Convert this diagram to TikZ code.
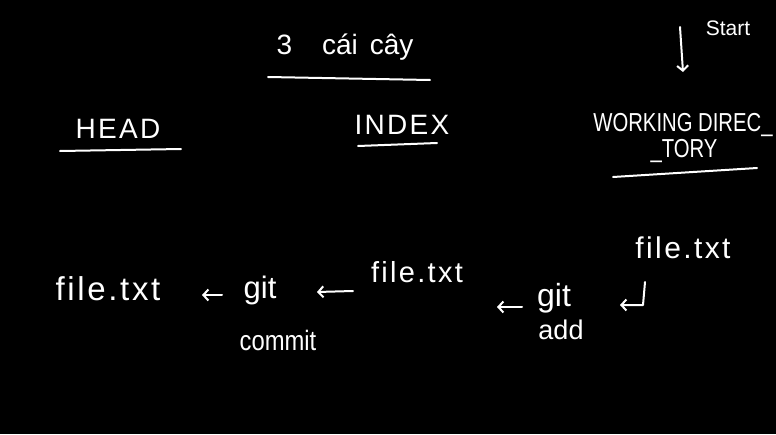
\documentclass[tikz,border=0pt]{standalone}
\usepackage{fontspec}
\setmainfont{Liberation Sans}
\newfontfamily\handwide[LetterSpace=8]{Liberation Sans}
\newfontfamily\handnarrow[FakeStretch=0.78]{Liberation Sans}
\newfontfamily\handcond[FakeStretch=0.85]{Liberation Sans}
\usetikzlibrary{arrows.meta}
\begin{document}
\begin{tikzpicture}[x=1pt,y=-1pt,
  txt/.style={text=white, inner sep=0pt, anchor=base},
  ln/.style={draw=white, line width=2pt, line cap=round, line join=round},
  arr/.style={ln, -{Straight Barb[length=5pt,width=11pt,line width=2pt]}}]
\fill[black] (0,0) rectangle (776,434);
\useasboundingbox (0,0) rectangle (776,434);

% titles
\node[txt, font=\fontsize{28}{32}\selectfont] (title) at (345,54) {3\hspace{30pt}cái\hspace{12pt}cây};
\draw[ln] (268,77) -- (430,80);

\node[txt, font=\handwide\fontsize{28}{32}\selectfont] (head) at (118,138) {HEAD};
\draw[ln] (60,151) -- (181,149);

\node[txt, font=\handwide\fontsize{28}{32}\selectfont] (index) at (402,134) {INDEX};
\draw[ln] (358,146) -- (437,143);

\node[txt, font=\handnarrow\fontsize{26}{30}\selectfont] (wd1) at (683,131) {WORKING DIREC\_};
\node[txt, font=\handnarrow\fontsize{26}{30}\selectfont] (wd2) at (684,157) {\_TORY};
\draw[ln] (613,177) -- (757,168);

\node[txt, font=\fontsize{21}{24}\selectfont] (start) at (728,35) {Start};
\coordinate (starttop) at (680,27);
\coordinate (startend) at (683,72);
\draw[arr] (starttop) -- (startend);

% files and commands
\node[txt, font=\handwide\fontsize{30}{34}\selectfont] (fwd) at (683,258) {file.txt};
\node[txt, font=\handwide\fontsize{29}{34}\selectfont] (fidx) at (417,282) {file.txt};
\node[txt, font=\handwide\fontsize{33}{38}\selectfont] (fhead) at (108,300) {file.txt};

\node[txt, font=\fontsize{31}{34}\selectfont] (gitc) at (260,298) {git};
\node[txt, font=\handcond\fontsize{28}{32}\selectfont] (commit) at (278,350) {commit};
\node[txt, font=\fontsize{32}{36}\selectfont] (gita) at (554,306) {git};
\node[txt, font=\fontsize{27}{30}\selectfont] (add) at (561,339) {add};

% connectors
\coordinate (h1) at (645,282);
\coordinate (h2) at (643,305);
\coordinate (h3) at (620,305);
\draw[arr] (h1) -- (h2) -- (h3);

\coordinate (a1) at (522,307);
\coordinate (a2) at (497,307);
\draw[arr] (a1) -- (a2);

\coordinate (b1) at (353,291);
\coordinate (b2) at (317,292);
\draw[arr] (b1) -- (b2);

\coordinate (c1) at (222,295);
\coordinate (c2) at (202,295);
\draw[arr] (c1) -- (c2);
\end{tikzpicture}
\end{document}
